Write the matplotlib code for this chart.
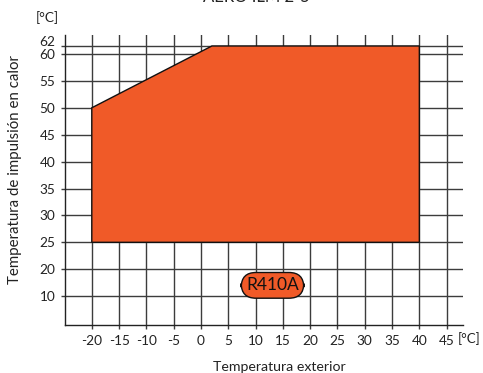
import numpy as np
import matplotlib
matplotlib.use("Agg")
import matplotlib.pyplot as plt
from matplotlib.patches import Polygon
import matplotlib.transforms as mtransforms

# ---- data ----
envelope_x = [-20, -20, 2, 40, 40]
envelope_y = [25, 50, 62, 62, 25]
x_ticks = [-20, -15, -10, -5, 0, 5, 10, 15, 20, 25, 30, 35, 40, 45]
y_ticks = [10, 20, 25, 30, 35, 40, 45, 50, 55, 60, 62]
refrigerant = "R410A"
title = "AERO ILM 2-5"
xlabel = "Temperatura exterior"
ylabel = "Temperatura de impulsión en calor"

FONT = ["Lato", "DejaVu Sans"]
plt.rcParams['font.family'] = FONT

# non-uniform vertical axis (as in the original drawing)
kv = np.array([-10.0, 10.0, 20.0, 60.0, 62.0, 70.0])
kp = np.array([5.0, 15.0, 20.0, 60.0, 61.49, 69.49])
def fwd(v):
    return np.interp(v, kv, kp)
def inv(p):
    return np.interp(p, kp, kv)

W, H = 483, 373
fig = plt.figure(figsize=(W / 100, H / 100), dpi=100)
ax = fig.add_axes([64.5 / W, 1 - 325 / H, (463 - 64.5) / W, (325 - 35) / H])
ax.set_yscale('function', functions=(fwd, inv))
ax.set_xlim(-25, 48)
ax.set_ylim(-0.74, 64.04)

grid_col = '#3c3c3c'
txt_col = '#222222'
ax.set_xticks(x_ticks)
ax.set_yticks(y_ticks)
ax.set_xticklabels([str(v) for v in x_ticks])
ax.set_yticklabels([str(v) for v in y_ticks])
ax.grid(True, color=grid_col, lw=1.0)
ax.set_axisbelow(True)
ax.tick_params(axis='both', direction='out', length=3, width=1, color=grid_col,
               labelsize=9.8, labelcolor=txt_col)
ax.tick_params(axis='x', pad=4.0)
ax.tick_params(axis='y', pad=3.5)
for s in ['top', 'right']:
    ax.spines[s].set_visible(False)
for s in ['left', 'bottom']:
    ax.spines[s].set_color(txt_col)
    ax.spines[s].set_linewidth(1.0)

# shift the "62" label up slightly so it does not collide with "60"
for lab, v in zip(ax.get_yticklabels(), y_ticks):
    if v == 62:
        lab.set_transform(lab.get_transform() + mtransforms.ScaledTranslation(0, 5 / 100, fig.dpi_scale_trans))

poly = Polygon(list(zip(envelope_x, envelope_y)), closed=True, facecolor='#F05A28',
               edgecolor='#111111', lw=1.0, zorder=2)
ax.add_patch(poly)

ax.text(13.1, 14.0, refrigerant, ha='center', va='center', fontsize=12.5, color='#111111',
        bbox=dict(boxstyle='round,pad=0.28,rounding_size=0.85', fc='#F05A28', ec='#111111', lw=1.0),
        zorder=5)

fig.text(469 / W, 1 - 339 / H, "[°C]", ha='center', va='center', fontsize=9.5, color=txt_col)
fig.text(47 / W, 1 - 18 / H, "[°C]", ha='center', va='center', fontsize=9.8, color=txt_col)
fig.text(279 / W, 1 - 367 / H, xlabel, ha='center', va='center', fontsize=10.2, color=txt_col)
fig.text(15 / W, 1 - 170 / H, ylabel, ha='center', va='center', rotation=90, fontsize=10.8, color=txt_col)
fig.text(256 / W, 1 - 2 / H, title, ha='center', va='baseline', fontsize=12, color=txt_col)

fig.savefig("out.png", dpi=100)
